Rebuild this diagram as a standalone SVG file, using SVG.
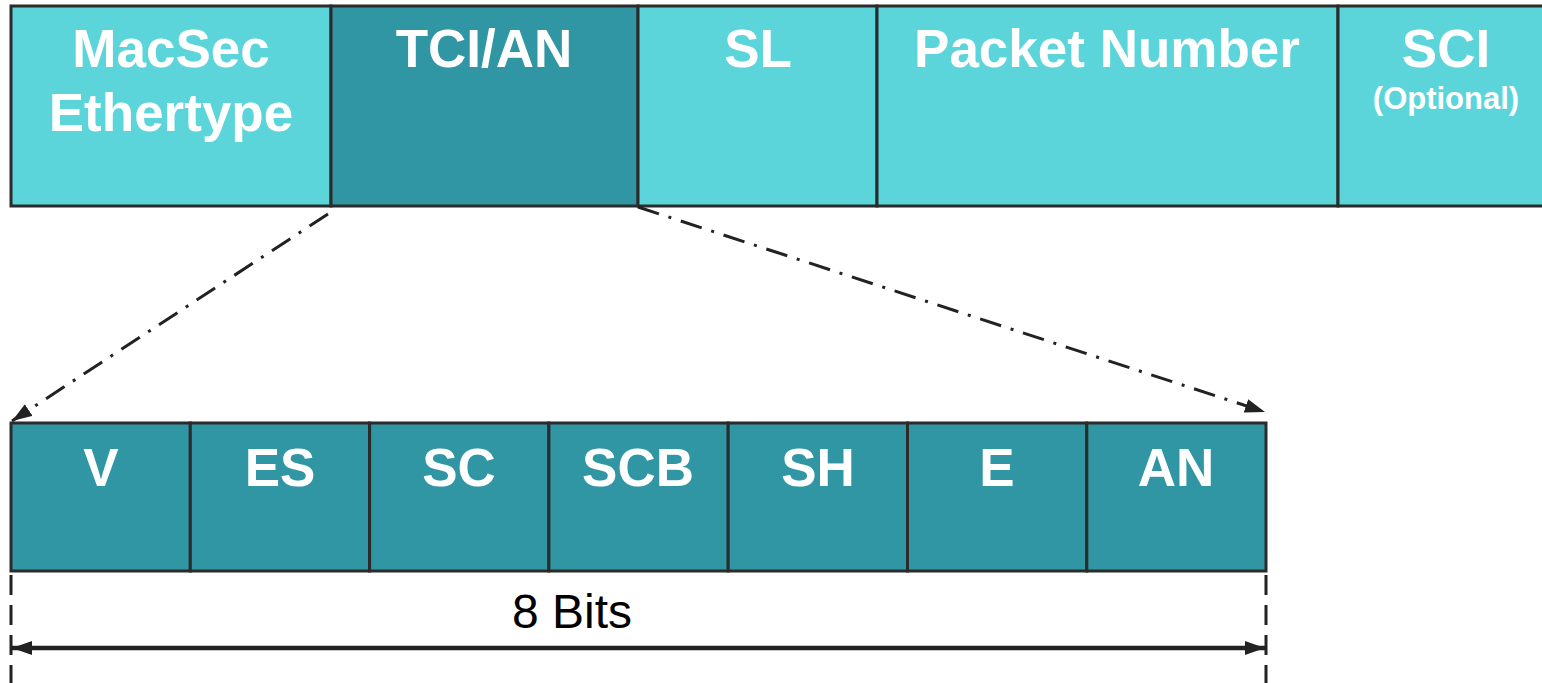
<svg xmlns="http://www.w3.org/2000/svg" width="1542" height="683" viewBox="0 0 1542 683">
<style>
.lt{fill:#5BD5DA;stroke:#2b2b2b;stroke-width:3}
.dk{fill:#3196A3;stroke:#2b2b2b;stroke-width:3}
.t{font-family:"Liberation Sans",Arial,sans-serif;font-weight:bold;fill:#fff;text-anchor:middle;font-size:53px}
.s{font-size:31px}
.dd{fill:none;stroke:#222;stroke-width:3;stroke-dasharray:22 10 3 10}
.dl{fill:none;stroke:#222;stroke-width:3;stroke-dasharray:20 10}
</style>
<defs>
<marker id="ah" viewBox="0 0 20 14" refX="20" refY="7" markerWidth="20" markerHeight="14" markerUnits="userSpaceOnUse" orient="auto-start-reverse">
<path d="M0,0 L20,7 L0,14 z" fill="#222"/>
</marker>
</defs>
<g id="macsec"><rect class="lt" x="11" y="6" width="320" height="200"/><text class="t" x="171" y="67">MacSec</text><text class="t" x="171" y="131">Ethertype</text></g>
<g id="tcian"><rect class="dk" x="331" y="6" width="307" height="200"/><text class="t" x="484" y="67">TCI/AN</text></g>
<g id="sl"><rect class="lt" x="638" y="6" width="239" height="200"/><text class="t" x="758" y="67">SL</text></g>
<g id="pn"><rect class="lt" x="877" y="6" width="461" height="200"/><text class="t" x="1107" y="67">Packet Number</text></g>
<g id="sci"><rect class="lt" x="1338" y="6" width="220" height="200"/><text class="t" x="1446" y="67">SCI</text><text class="t s" x="1446" y="109">(Optional)</text></g>
<g id="v"><rect class="dk" x="11" y="423" width="179.3" height="148"/><text class="t" x="101" y="486">V</text></g>
<g id="es"><rect class="dk" x="190.3" y="423" width="179.3" height="148"/><text class="t" x="280" y="486">ES</text></g>
<g id="sc"><rect class="dk" x="369.6" y="423" width="179.3" height="148"/><text class="t" x="459" y="486">SC</text></g>
<g id="scb"><rect class="dk" x="548.9" y="423" width="179.3" height="148"/><text class="t" x="638" y="486">SCB</text></g>
<g id="sh"><rect class="dk" x="728.2" y="423" width="179.3" height="148"/><text class="t" x="818" y="486">SH</text></g>
<g id="e"><rect class="dk" x="907.5" y="423" width="179.3" height="148"/><text class="t" x="997" y="486">E</text></g>
<g id="an"><rect class="dk" x="1086.8" y="423" width="179.2" height="148"/><text class="t" x="1176" y="486">AN</text></g>
<g id="connectors">
<path class="dd" d="M328,214 L12,421" marker-end="url(#ah)"/>
<path class="dd" d="M638,207 L1265,412" marker-end="url(#ah)"/>
<path class="dl" d="M11,575 V683"/>
<path class="dl" d="M1266,575 V683"/>
<path d="M12,648 H1265" stroke="#222" stroke-width="4.5" fill="none" marker-start="url(#ah)" marker-end="url(#ah)"/>
</g>
<text x="572" y="628" font-family="'Liberation Sans',Arial,sans-serif" font-size="48" fill="#000" text-anchor="middle">8 Bits</text>
</svg>
